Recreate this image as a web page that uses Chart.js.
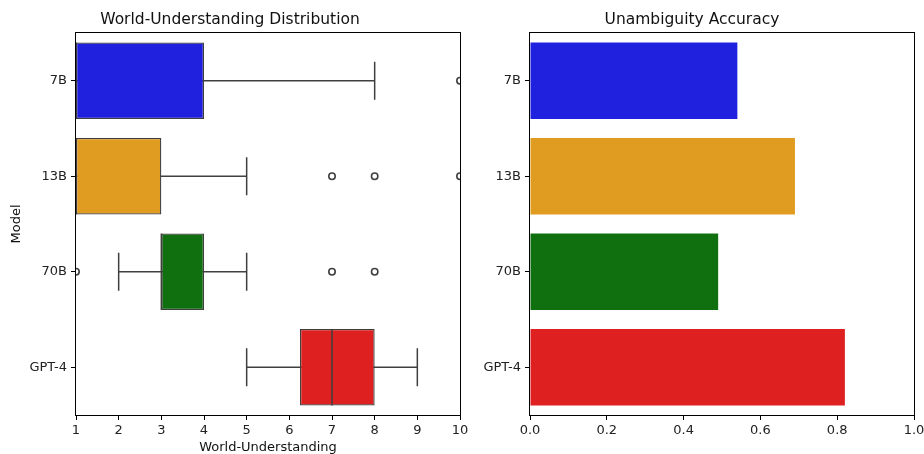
<!DOCTYPE html>
<html>
<head>
<meta charset="utf-8">
<script src="https://cdn.jsdelivr.net/npm/chart.js@4/dist/chart.umd.min.js"></script>
<style>
  html, body { margin: 0; padding: 0; background: #fff; overflow: hidden; }
  #wrap { position: relative; width: 924px; height: 454px; overflow: hidden; }
  .panel { position: absolute; top: 0; height: 454px; }
  /* each canvas is centred on its plot area so the titles sit over the axes */
  #left { left: 0; width: 536px; }
  #right { left: 470px; width: 504px; }
</style>
</head>
<body>
<div id="wrap">
  <div class="panel" id="left"><canvas id="boxChart"></canvas></div>
  <div class="panel" id="right"><canvas id="barChart"></canvas></div>
</div>
<script>
// models and their colours
const models = ["7B", "13B", "70B", "GPT-4"]
const colors = ["#2020df", "#df9c20", "#107010", "#df2020"]

// World-Understanding box stats
const whiskerLow = [1, 1, 2, 5]
const q1 = [1, 1, 3, 6.25]
const medians = [1, 1, 3, 7]
const q3 = [4, 3, 4, 8]
const whiskerHigh = [8, 5, 5, 9]
const outliers = [[10], [7, 8, 10], [1, 7, 8], []]

// Unambiguity accuracy
const accuracy = [0.54, 0.69, 0.49, 0.82]

// tick labels
const scoreTicks = [1, 2, 3, 4, 5, 6, 7, 8, 9, 10]
const accTicks = [0, 0.2, 0.4, 0.6, 0.8, 1.0]

const FONT = "'DejaVu Sans', sans-serif"
const lineColor = "#3f3f3f"

Chart.defaults.font.family = FONT
Chart.defaults.color = "#222"
Chart.defaults.animation = false

// box frame round the plot area (all four spines)
const frame = {
  id: "frame",
  afterDatasetsDraw(chart) {
    const { ctx, chartArea: a } = chart
    ctx.save()
    ctx.strokeStyle = "#000"
    ctx.lineWidth = 1
    ctx.strokeRect(Math.round(a.left) - 0.5, Math.round(a.top) - 0.5,
      Math.round(a.right - a.left) + 1, Math.round(a.bottom - a.top) + 1)
    ctx.restore()
  },
}

const tickGrid = { display: true, drawOnChartArea: false, drawTicks: true, tickLength: 5, color: "#000", offset: false }

// ---- left: box plot built from floating bars + line segments ----
const segment = (pts, width) => ({
  type: "line",
  data: pts,
  borderColor: lineColor,
  borderWidth: width,
  pointRadius: 0,
  fill: false,
  order: 2,
})

const boxDatasets = []
boxDatasets.push({
  type: "bar",
  data: models.map((m, i) => ({ x: [q1[i], q3[i]], y: i })),
  backgroundColor: colors,
  borderColor: lineColor,
  borderWidth: 1.3,
  borderSkipped: false,
  barPercentage: 0.8,
  categoryPercentage: 1,
  order: 1,
})
models.forEach((m, i) => {
  // whisker
  boxDatasets.push(segment([{ x: whiskerLow[i], y: i }, { x: whiskerHigh[i], y: i }], 1.5))
  // caps
  boxDatasets.push(segment([{ x: whiskerLow[i], y: i - 0.2 }, { x: whiskerLow[i], y: i + 0.2 }], 1.5))
  boxDatasets.push(segment([{ x: whiskerHigh[i], y: i - 0.2 }, { x: whiskerHigh[i], y: i + 0.2 }], 1.5))
  // median
  const med = segment([{ x: medians[i], y: i - 0.4 }, { x: medians[i], y: i + 0.4 }], 1.5)
  med.order = 0
  boxDatasets.push(med)
})
boxDatasets.push({
  type: "scatter",
  data: outliers.flatMap((vals, i) => vals.map((v) => ({ x: v, y: i }))),
  pointRadius: 3.2,
  pointBorderWidth: 1.6,
  pointBackgroundColor: "rgba(0,0,0,0)",
  pointBorderColor: lineColor,
  clip: 0,
  order: 0,
})

new Chart(document.getElementById("boxChart"), {
  type: "bar",
  data: { datasets: boxDatasets },
  options: {
    responsive: true,
    maintainAspectRatio: false,
    indexAxis: "y",
    layout: { padding: { left: 0, right: 76, top: 0, bottom: 0 } },
    plugins: {
      legend: { display: false },
      tooltip: { enabled: false },
      title: {
        display: true,
        text: "World-Understanding Distribution",
        color: "#111",
        font: { size: 15.5, weight: "normal" },
        padding: { top: 11, bottom: 3.4 },
      },
    },
    scales: {
      x: {
        type: "linear",
        min: scoreTicks[0],
        max: scoreTicks[scoreTicks.length - 1],
        afterBuildTicks: (s) => { s.ticks = scoreTicks.map((v) => ({ value: v })) },
        ticks: { font: { size: 13 }, padding: 3, maxRotation: 0 },
        grid: tickGrid,
        border: { display: false },
        title: { display: true, text: "World-Understanding", font: { size: 13 }, color: "#111", padding: { top: 0, bottom: -1 } },
        afterFit: (s) => { s.height = 39 },
      },
      y: {
        type: "linear",
        offset: false,
        min: -0.5,
        max: models.length - 0.5,
        reverse: true,
        afterBuildTicks: (s) => { s.ticks = models.map((m, i) => ({ value: i })) },
        ticks: { font: { size: 13 }, padding: 4, callback: (v) => models[v] },
        grid: tickGrid,
        border: { display: false },
        title: { display: true, text: "Model", font: { size: 13 }, color: "#111", padding: { top: 9, bottom: 0 } },
        afterFit: (s) => { s.width = 76 },
      },
    },
  },
  plugins: [frame],
})

// ---- right: accuracy bars ----
new Chart(document.getElementById("barChart"), {
  type: "bar",
  data: {
    labels: models,
    datasets: [
      {
        label: "Accuracy",
        data: accuracy,
        backgroundColor: colors,
        borderWidth: 0,
        barPercentage: 0.8,
        categoryPercentage: 1,
      },
    ],
  },
  options: {
    responsive: true,
    maintainAspectRatio: false,
    indexAxis: "y",
    layout: { padding: { left: 0, right: 60, top: 0, bottom: 0 } },
    plugins: {
      legend: { display: false },
      tooltip: { enabled: false },
      title: {
        display: true,
        text: "Unambiguity Accuracy",
        color: "#111",
        font: { size: 15.5, weight: "normal" },
        padding: { top: 11, bottom: 3.4 },
      },
    },
    scales: {
      x: {
        type: "linear",
        min: accTicks[0],
        max: accTicks[accTicks.length - 1],
        afterBuildTicks: (s) => { s.ticks = accTicks.map((v) => ({ value: v })) },
        ticks: { font: { size: 13 }, padding: 3, maxRotation: 0, callback: (v) => Number(v).toFixed(1) },
        grid: tickGrid,
        border: { display: false },
        afterFit: (s) => { s.height = 39 },
      },
      y: {
        type: "category",
        ticks: { font: { size: 13 }, padding: 4 },
        grid: tickGrid,
        border: { display: false },
        afterFit: (s) => { s.width = 60 },
      },
    },
  },
  plugins: [frame],
})
</script>
</body>
</html>
